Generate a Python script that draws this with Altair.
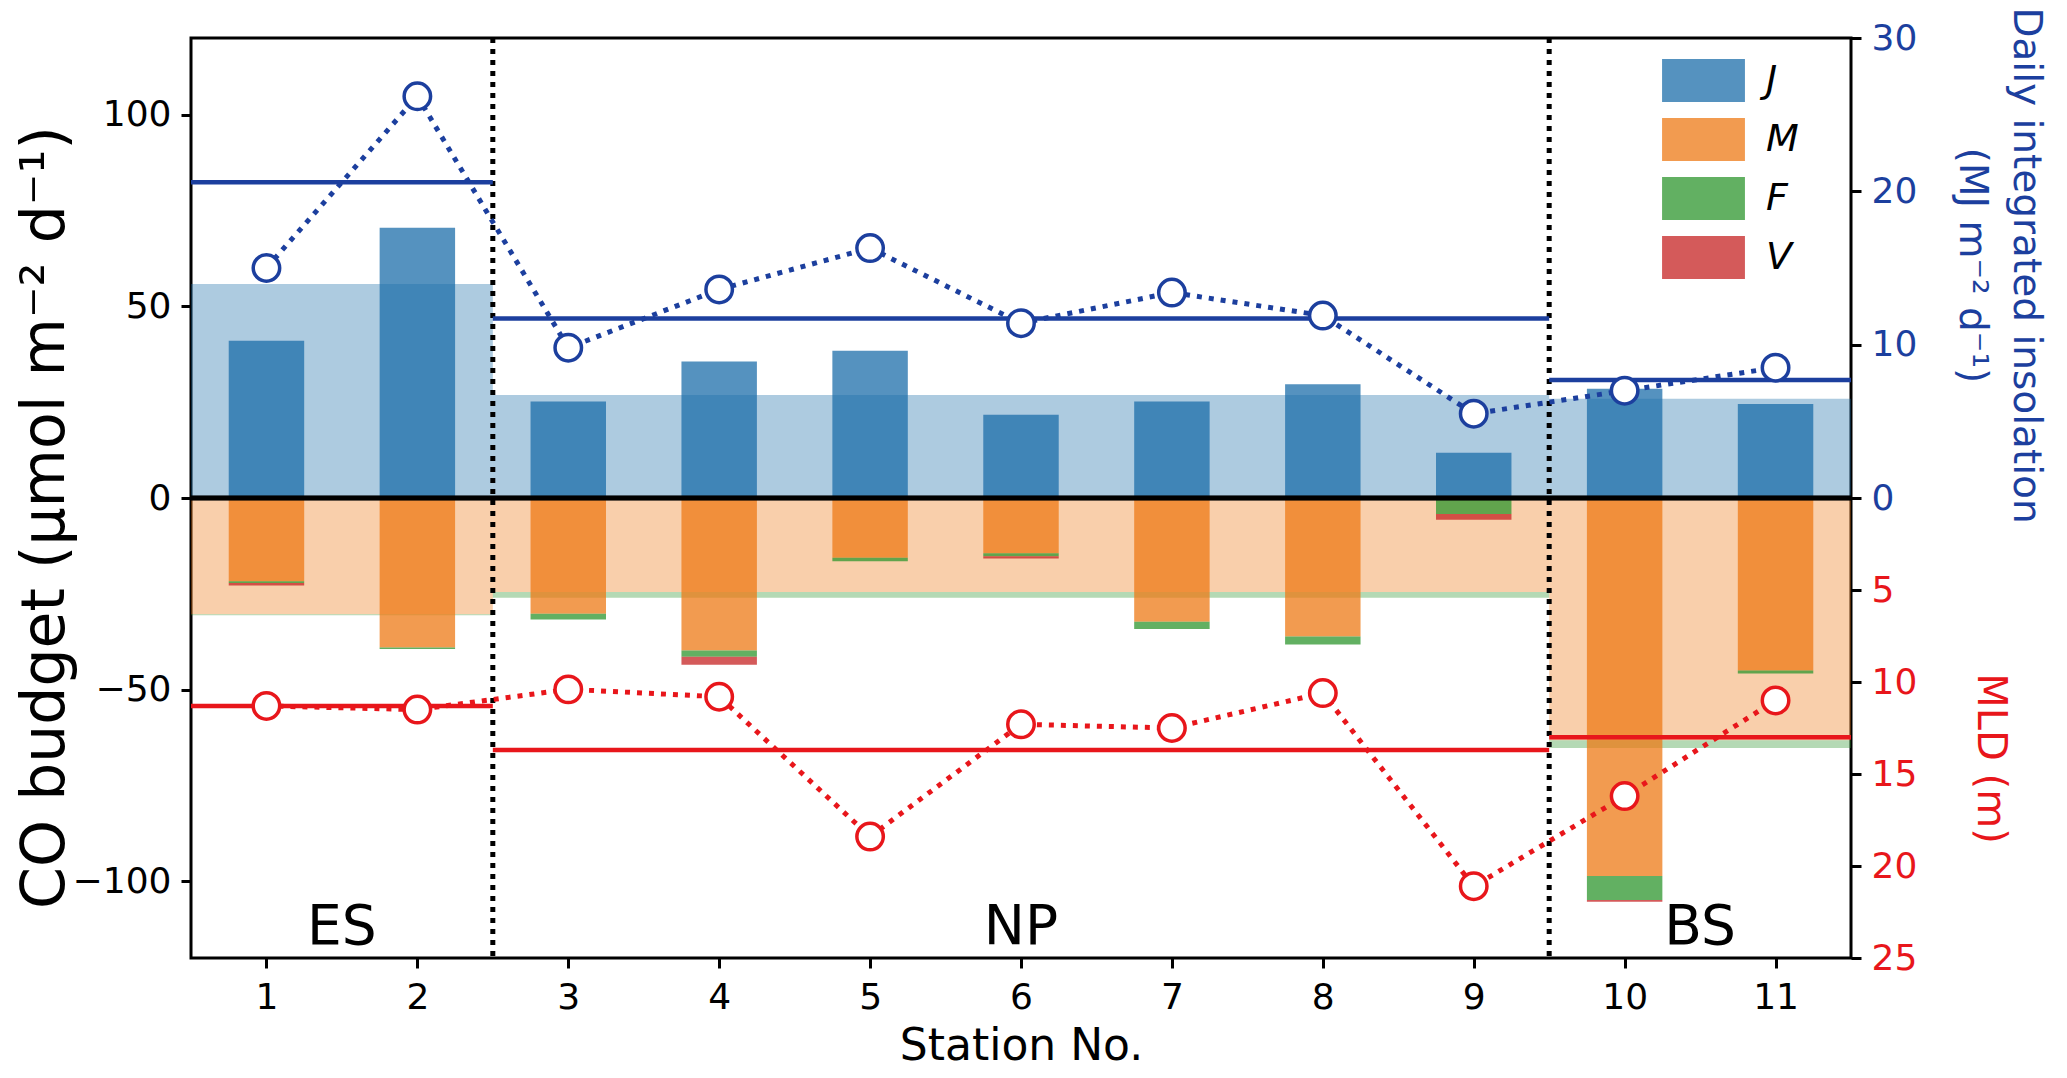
import altair as alt
import pandas as pd

# station values
stations = [1, 2, 3, 4, 5, 6, 7, 8, 9, 10, 11]
J = [41.0, 70.5, 25.2, 35.6, 38.4, 21.7, 25.2, 29.7, 11.8, 28.5, 24.5]
M = [-21.7, -39.0, -30.2, -39.8, -15.6, -14.4, -32.3, -36.1, -0.3, -98.6, -45.0]
F = [-0.5, -0.4, -1.5, -1.6, -0.9, -0.8, -1.9, -2.1, -3.9, -6.3, -0.8]
V = [-0.6, 0.0, 0.0, -2.1, 0.0, -0.6, 0.0, 0.0, -1.5, -0.4, 0.0]
insolation = [15.0, 26.2, 9.8, 13.6, 16.3, 11.4, 13.4, 11.9, 5.5, 7.0, 8.5]
mld = [11.3, 11.5, 10.4, 10.8, 18.4, 12.3, 12.5, 10.6, 21.1, 16.2, 11.0]

# regional means
regions = ["ES", "NP", "BS"]
region_start = [0.5, 2.5, 9.5]
region_end = [2.5, 9.5, 11.5]
region_J = [55.8, 26.9, 25.9]
region_M = [-30.3, -24.5, -63.2]
region_F = [-0.3, -1.5, -2.0]
region_insolation = [20.6, 11.7, 7.7]
region_mld = [11.3, 13.7, 13.0]

components = ["J", "M", "F", "V"]
component_colors = ["#1c6eaa", "#ee7a16", "#2e962e", "#c62323"]
BLUE = "#1c3f9e"
RED = "#e8161b"
FONT = "DejaVu Sans"

st = pd.DataFrame({"station": stations, "J": J, "M": M, "F": F, "V": V,
                   "insol": insolation, "mld": mld})
reg = pd.DataFrame({"region": regions, "start": region_start, "end": region_end,
                    "J": region_J, "M": region_M, "F": region_F,
                    "insol": region_insolation, "mld": region_mld})

x_scale = alt.Scale(domain=[0.5, 11.5], nice=False, zero=False)
x_axis = alt.Axis(values=stations, format="d", grid=False, domain=False,
                  tickSize=10, tickWidth=3, tickColor="black", labelFlush=False,
                  labelFontSize=36, labelColor="black", labelPadding=12,
                  titleFontSize=44, titleFontWeight="normal", titleColor="black",
                  titleY=101, titleBaseline="alphabetic")


def xq(field):
    return alt.X(field, type="quantitative", scale=x_scale, axis=x_axis, title="Station No.")


co_scale = alt.Scale(domain=[-120, 120], nice=False, zero=False)
co_axis = alt.Axis(orient="left", values=[-100, -50, 0, 50, 100], grid=False, domain=False,
                   tickSize=10, tickWidth=3, tickColor="black", labelFlush=False,
                   labelFontSize=36, labelColor="black", labelPadding=10,
                   titleFontSize=60, titleFontWeight="normal", titleColor="black",
                   titleX=-146, titleY=479, titleAngle=270,
                   titleAlign="center", titleBaseline="middle")
co_title = "CO budget (\u03bcmol m\u207b\u00b2 d\u207b\u00b9)"


def yco(field):
    return alt.Y(field, type="quantitative", scale=co_scale, axis=co_axis, title=co_title)


insol_scale = alt.Scale(domain=[-30, 30], nice=False, zero=False)
insol_axis = alt.Axis(orient="right", values=[0, 10, 20, 30], grid=False, domain=False,
                      tickSize=10, tickWidth=3, tickColor="black", labelFlush=False,
                      labelFontSize=36, labelColor=BLUE, labelPadding=10,
                      titleFontSize=39, titleFontWeight="normal", titleColor=BLUE,
                      titleX=174, titleY=227, titleAngle=90, titleLineHeight=54,
                      titleAlign="center", titleBaseline="middle")
insol_title = ["Daily integrated insolation", "(MJ m\u207b\u00b2 d\u207b\u00b9)"]

mld_scale = alt.Scale(domain=[-25, 25], reverse=True, nice=False, zero=False)
mld_axis = alt.Axis(orient="right", values=[5, 10, 15, 20, 25], grid=False, domain=False,
                    tickSize=10, tickWidth=3, tickColor="black", labelFlush=False,
                    labelFontSize=36, labelColor=RED, labelPadding=10,
                    titleFontSize=40, titleFontWeight="normal", titleColor=RED,
                    titleX=138, titleY=720, titleAngle=90,
                    titleAlign="center", titleBaseline="middle")

# wide flat patches, spaced like the original legend
legend = alt.Legend(title=None, orient="none", legendX=1475.5, legendY=5.5, padding=0,
                    symbolType="M-1.12,-0.58H1.12V0.58H-1.12Z", symbolSize=5476,
                    symbolStrokeWidth=0, symbolOpacity=0.75,
                    labelFontSize=38, labelFontStyle="italic", labelColor="black",
                    labelFont=FONT, labelOffset=25.5, rowPadding=0)
color = alt.Color("component:N",
                  scale=alt.Scale(domain=components, range=component_colors),
                  legend=legend)
order_expr = "indexof(['J', 'M', 'F', 'V'], datum.component)"

# shaded regional means
shade = alt.Chart(reg) \
    .transform_fold(["J", "M", "F"], as_=["component", "value"]) \
    .transform_calculate(order=order_expr) \
    .transform_stack(stack="value", groupby=["region"], sort=[alt.SortField("order")],
                     as_=["y0", "y1"]) \
    .mark_rect(opacity=0.36) \
    .encode(x=xq("start"), x2="end", y=yco("y0"), y2="y1", color=color)

bars = alt.Chart(st) \
    .transform_fold(components, as_=["component", "value"]) \
    .transform_calculate(order=order_expr, x0="datum.station - 0.25",
                         x1="datum.station + 0.25") \
    .transform_stack(stack="value", groupby=["station"], sort=[alt.SortField("order")],
                     as_=["y0", "y1"]) \
    .mark_rect(opacity=0.75) \
    .encode(x=xq("x0"), x2="x1", y=yco("y0"), y2="y1", color=color)

zero = alt.Chart(reg).mark_rule(color="black", strokeWidth=4.5) \
    .encode(y=alt.datum(0, scale=co_scale, axis=co_axis, title=co_title))

dividers = alt.Chart(reg).transform_filter("datum.start > 1") \
    .mark_rule(color="black", strokeWidth=5, strokeDash=[5, 6]) \
    .encode(x=xq("start"))

labels = alt.Chart(reg).transform_calculate(mid="(datum.start + datum.end) / 2") \
    .mark_text(fontSize=55, font=FONT, color="black", align="center", baseline="middle") \
    .encode(x=xq("mid"), y=alt.datum(-112, scale=co_scale, axis=co_axis, title=co_title),
            text="region:N")

co_layer = alt.layer(shade, bars, zero, dividers, labels)


def yq(field, scale, axis, title):
    return alt.Y(field, type="quantitative", scale=scale, axis=axis, title=title)


insol_mean = alt.Chart(reg).mark_rule(color=BLUE, strokeWidth=4.5) \
    .encode(x=xq("start"), x2="end", y=yq("insol", insol_scale, insol_axis, insol_title))
insol_line = alt.Chart(st).mark_line(color=BLUE, strokeWidth=5, strokeDash=[5, 7]) \
    .encode(x=xq("station"), y=yq("insol", insol_scale, insol_axis, insol_title))
insol_pts = alt.Chart(st) \
    .mark_point(shape="circle", filled=True, fill="white", fillOpacity=1, stroke=BLUE,
                strokeWidth=3.5, size=700, opacity=1) \
    .encode(x=xq("station"), y=yq("insol", insol_scale, insol_axis, insol_title))
insol_layer = alt.layer(insol_mean, insol_line, insol_pts)

mld_mean = alt.Chart(reg).mark_rule(color=RED, strokeWidth=4.5) \
    .encode(x=xq("start"), x2="end", y=yq("mld", mld_scale, mld_axis, "MLD (m)"))
mld_line = alt.Chart(st).mark_line(color=RED, strokeWidth=5, strokeDash=[5, 7]) \
    .encode(x=xq("station"), y=yq("mld", mld_scale, mld_axis, "MLD (m)"))
mld_pts = alt.Chart(st) \
    .mark_point(shape="circle", filled=True, fill="white", fillOpacity=1, stroke=RED,
                strokeWidth=3.5, size=700, opacity=1) \
    .encode(x=xq("station"), y=yq("mld", mld_scale, mld_axis, "MLD (m)"))
mld_layer = alt.layer(mld_mean, mld_line, mld_pts)

chart = alt.layer(co_layer, insol_layer, mld_layer) \
    .resolve_scale(y="independent") \
    .properties(width=1660, height=920,
                autosize=alt.AutoSizeParams(type="none"),
                padding={"left": 183, "top": 30, "right": 208, "bottom": 112}) \
    .configure(font=FONT) \
    .configure_view(stroke="black", strokeWidth=3)

chart.save("out.html", embed_options={"renderer": "svg", "actions": False})
